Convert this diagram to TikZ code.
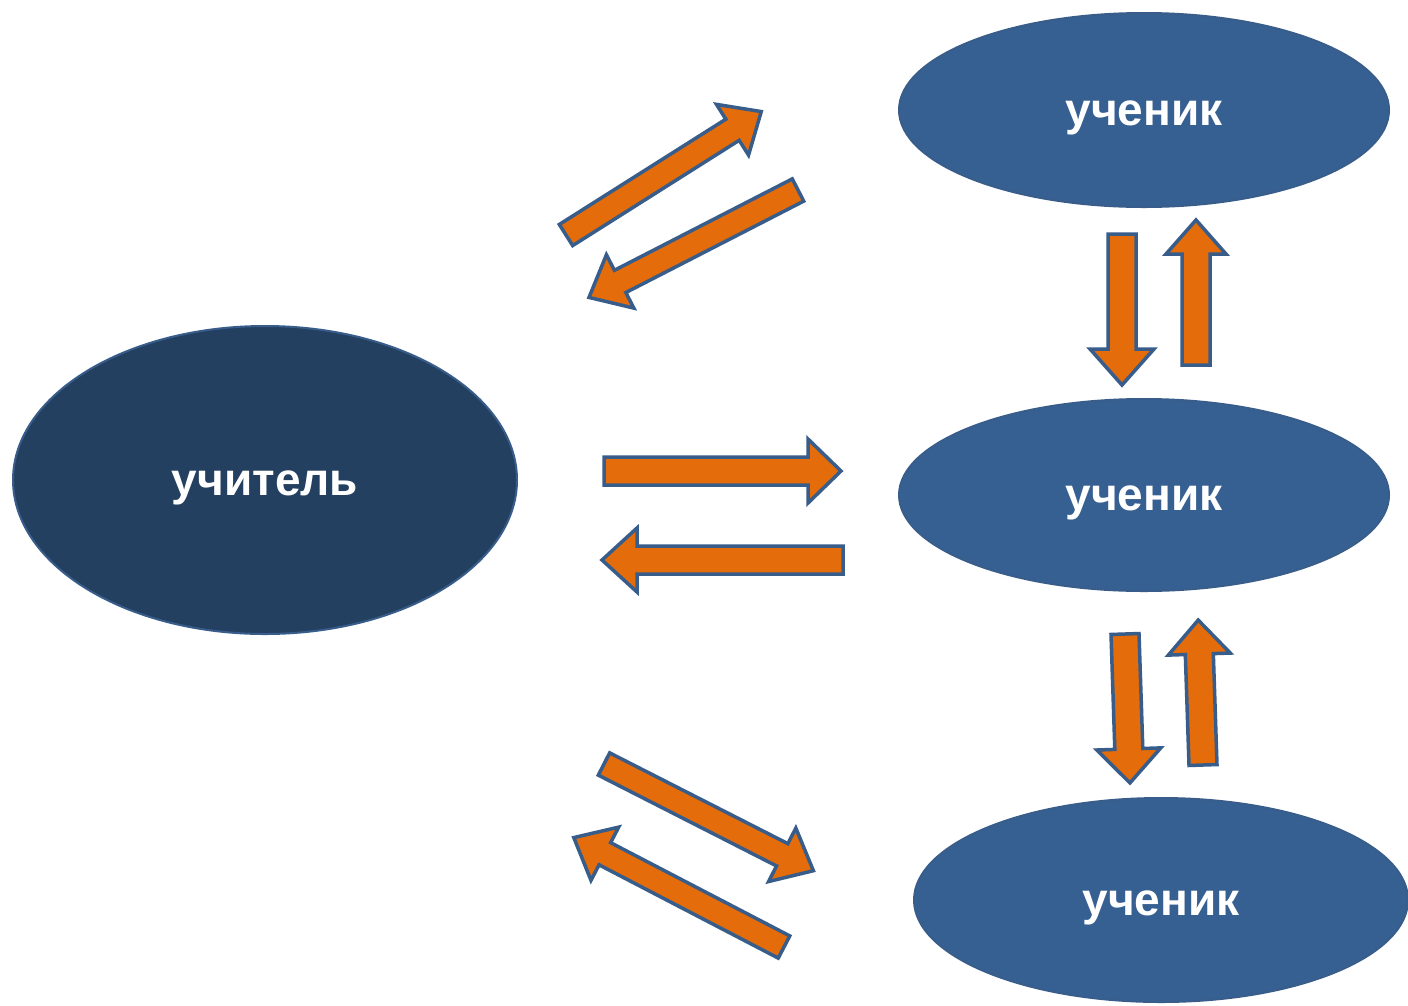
\documentclass[tikz,border=0pt]{standalone}
\usepackage{fontspec}
\setmainfont{Liberation Sans}
\usetikzlibrary{shapes.geometric}
\definecolor{teachfill}{HTML}{244061}
\definecolor{pupilfill}{HTML}{376092}
\definecolor{outl}{HTML}{385D8A}
\definecolor{arrfill}{HTML}{E46C0A}
\tikzset{
  person/.style={ellipse, draw=outl, line width=2pt, inner sep=0pt,
    text=white, text height=40pt, font=\fontsize{46}{50}\selectfont\bfseries},
  teacher/.style={person, fill=teachfill},
  pupil/.style={person, fill=pupilfill},
  blockarrow/.style={draw=outl, fill=arrfill, line width=3.5pt, line join=miter},
  pics/barrow/.style n args={4}{code={
    \draw[blockarrow] (0,-#2) -- (#1-#4,-#2) -- (#1-#4,-#3) -- (#1,0)
      -- (#1-#4,#3) -- (#1-#4,#2) -- (0,#2) -- cycle;
  }}
}
\begin{document}
\begin{tikzpicture}[x=1pt,y=-1pt]
\useasboundingbox (0,0) rectangle (1408,1005);
\fill[white] (0,0) rectangle (1408,1005);
% people
\node[teacher, minimum width=504pt, minimum height=308pt] (t) at (265,480) {учитель};
\node[pupil, minimum width=490pt, minimum height=194pt] (p1) at (1144,110) {ученик};
\node[pupil, minimum width=490pt, minimum height=192pt] (p2) at (1144,495) {ученик};
\node[pupil, minimum width=494pt, minimum height=204pt] (p3) at (1161,900) {ученик};
% teacher <-> pupil 1
\pic[rotate=32.3] (a1) at (566,235) {barrow={231}{12.5}{30}{34}};
\pic[rotate=207.2] (a2) at (798,190) {barrow={235}{12.5}{30}{35}};
% teacher <-> pupil 2
\pic[rotate=0] (a3) at (604,471) {barrow={237}{14}{32}{33}};
\pic[rotate=180] (a4) at (843,560) {barrow={241}{14}{32}{35}};
% pupil 1 <-> pupil 2
\pic[rotate=-90] (a5) at (1122,234) {barrow={151}{14}{32}{36}};
\pic[rotate=90] (a6) at (1196,365) {barrow={145}{14}{30}{34}};
% pupil 2 <-> pupil 3
\pic[rotate=-88.1] (a7) at (1125,634) {barrow={149}{14}{32}{34}};
\pic[rotate=91.9] (a8) at (1203,765) {barrow={145}{14}{31}{34}};
% teacher <-> pupil 3
\pic[rotate=-27] (a9) at (604,764) {barrow={235}{12.5}{30}{35}};
\pic[rotate=152.5] (a10) at (784,947) {barrow={237}{12.5}{30}{35}};
\end{tikzpicture}
\end{document}
